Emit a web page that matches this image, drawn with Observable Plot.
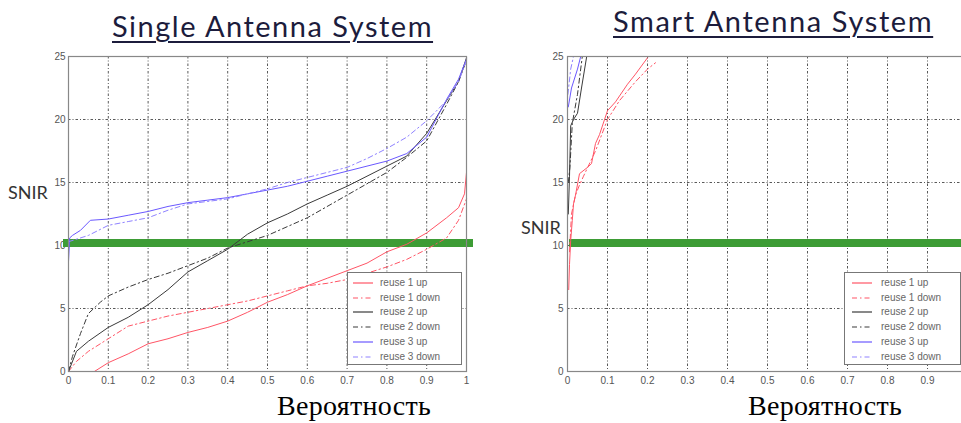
<!DOCTYPE html>
<html>
<head>
<meta charset="utf-8">
<script src="https://cdn.jsdelivr.net/npm/d3@7"></script>
<script src="https://cdn.jsdelivr.net/npm/@observablehq/plot@0.6"></script>
<style>
  html, body { margin: 0; padding: 0; background: #fff; overflow: hidden; }
  #page { position: relative; width: 961px; height: 423px; overflow: hidden; background: #fff; }
  .abs { position: absolute; white-space: nowrap; }
  .title { font-family: "Lato", "DejaVu Sans", sans-serif; font-size: 29px; line-height: 34px; color: #1c1c3c; text-decoration: underline; text-decoration-thickness: 2px; text-underline-offset: 4px; }
  .snir { font-family: "Lato", "DejaVu Sans", sans-serif; font-size: 18px; line-height: 17px; color: #333; }
  .xlab { font-family: "Liberation Serif", "Times New Roman", serif; font-size: 28px; line-height: 32px; color: #000; }
  .legend { position: absolute; border: 1px solid #777; background: #fff; box-sizing: border-box; }
  .legend .row { position: absolute; left: 0; height: 14px; font-family: "Liberation Sans Narrow", "Liberation Sans", sans-serif; font-size: 10px; color: #666; }
  .legend svg { position: absolute; top: 0; }
  .plotwrap { position: absolute; top: 0; }
  .plotwrap svg { overflow: visible; max-width: none !important; }
</style>
</head>
<body>
<div id="page"></div>
<script>
// ---------- data ----------
const xTicks = [0, 0.1, 0.2, 0.3, 0.4, 0.5, 0.6, 0.7, 0.8, 0.9, 1];
const xTicksVisibleSmart = [0, 0.1, 0.2, 0.3, 0.4, 0.5, 0.6, 0.7, 0.8, 0.9];
const yTicks = [0, 5, 10, 15, 20, 25];
const threshold = 10.2;
const seriesNames = ["reuse 1 up", "reuse 1 down", "reuse 2 up", "reuse 2 down", "reuse 3 up", "reuse 3 down"];
const chartTitles = ["Single Antenna System", "Smart Antenna System"];
const yLabel = "SNIR";
const xLabel = "Вероятность";

// Single antenna system
const single_r1up_p = [0.065,0.1,0.15,0.2,0.25,0.3,0.35,0.4,0.45,0.5,0.55,0.6,0.65,0.7,0.75,0.8,0.85,0.9,0.95,0.98,0.995,1.0];
const single_r1up_s = [0,0.7,1.4,2.2,2.6,3.1,3.5,4.0,4.7,5.5,6.1,6.8,7.4,8.0,8.6,9.5,10.1,11.0,12.2,13.0,14.1,15.8];
const single_r1dn_p = [0,0.02,0.05,0.1,0.15,0.2,0.25,0.3,0.35,0.4,0.45,0.5,0.55,0.6,0.65,0.7,0.75,0.8,0.85,0.9,0.95,0.98,1.0];
const single_r1dn_s = [0,0.8,1.6,2.6,3.6,4.0,4.4,4.7,5.0,5.3,5.6,6.0,6.4,6.8,7.0,7.3,7.8,8.3,8.9,9.7,10.6,12.0,13.7];
const single_r2up_p = [0,0.02,0.05,0.1,0.15,0.2,0.25,0.3,0.35,0.4,0.45,0.5,0.55,0.6,0.65,0.7,0.75,0.8,0.85,0.9,0.95,0.98,1.0];
const single_r2up_s = [0,1.6,2.4,3.5,4.3,5.3,6.5,7.9,8.8,9.7,10.9,11.8,12.5,13.3,14.0,14.7,15.5,16.3,17.1,18.9,21.5,23.0,24.9];
const single_r2dn_p = [0,0.01,0.03,0.05,0.08,0.1,0.15,0.2,0.25,0.3,0.35,0.4,0.45,0.5,0.55,0.6,0.65,0.7,0.75,0.8,0.85,0.9,0.95,0.98,1.0];
const single_r2dn_s = [0,1.2,3.0,4.6,5.5,6.0,6.7,7.3,7.8,8.4,9.0,9.8,10.3,10.8,11.5,12.2,13.1,14.0,14.9,15.8,17.0,18.3,21.2,23.0,24.7];
const single_r3up_p = [0,0.003,0.01,0.03,0.055,0.1,0.15,0.2,0.25,0.3,0.35,0.4,0.45,0.5,0.55,0.6,0.65,0.7,0.75,0.8,0.85,0.9,0.95,0.98,1.0];
const single_r3up_s = [8.7,10.6,10.8,11.2,12.0,12.1,12.4,12.7,13.1,13.4,13.6,13.8,14.1,14.4,14.7,15.1,15.5,15.9,16.3,16.7,17.3,18.6,21.6,23.2,24.8];
const single_r3dn_p = [0,0.05,0.1,0.15,0.2,0.25,0.3,0.35,0.4,0.45,0.5,0.55,0.6,0.65,0.7,0.75,0.8,0.85,0.9,0.95,0.98,1.0];
const single_r3dn_s = [10.3,10.8,11.6,11.9,12.2,12.8,13.3,13.5,13.7,14.1,14.5,15.0,15.4,15.8,16.2,16.9,17.7,18.6,19.9,21.5,23.0,24.7];

// Smart antenna system
const smart_r1up_p = [0.003,0.005,0.008,0.012,0.015,0.02,0.03,0.05,0.06,0.07,0.08,0.1,0.12,0.15,0.17,0.2];
const smart_r1up_s = [6.5,8.5,10.4,12.0,13.3,14.0,15.7,16.2,16.5,18.1,18.8,20.7,21.4,22.8,23.6,24.9];
const smart_r1dn_p = [0.005,0.01,0.02,0.03,0.04,0.07,0.1,0.13,0.17,0.2,0.22];
const smart_r1dn_s = [9.5,12.5,14.0,14.8,15.5,17.5,20.0,21.5,23.0,24.0,24.5];
const smart_r2up_p = [0.002,0.005,0.008,0.015,0.025,0.035,0.048];
const smart_r2up_s = [12.5,15.5,19.5,20.0,20.5,22.5,25];
const smart_r2dn_p = [0.002,0.006,0.012,0.025,0.037];
const smart_r2dn_s = [15,16.2,19.7,22,25];
const smart_r3up_p = [0.002,0.01,0.025,0.033];
const smart_r3up_s = [21,22.5,24,25];
const smart_r3dn_p = [0.001,0.008,0.015];
const smart_r3dn_s = [22,24,25];

// ---------- styles ----------
const seriesStyle = [
  {stroke: "#ff5566", dash: null},
  {stroke: "#ff5566", dash: "5,3,1.5,3"},
  {stroke: "#3a3a3a", dash: null},
  {stroke: "#3a3a3a", dash: "5,3,1.5,3"},
  {stroke: "#6a58ff", dash: null},
  {stroke: "#8f82ff", dash: "5,3,1.5,3"}
];
const green = "#3d9c35";

function toRows(p, s) { return p.map((x, i) => ({x, y: s[i]})); }

function makeChart(series, opts) {
  const marks = [
    Plot.gridX(xTicks, {stroke: "#222", strokeOpacity: 0.75, strokeDasharray: "2.5,2,1,2"}),
    Plot.gridY(yTicks, {stroke: "#222", strokeOpacity: 0.75, strokeDasharray: "2.5,2,1,2"}),
    Plot.axisX(opts.xLabels, {tickSize: 0, tickPadding: 5, fontSize: 10, fill: "#555",
      fontFamily: "Liberation Sans Narrow, Liberation Sans, sans-serif",
      tickFormat: d => d === 0 ? "0" : d === 1 ? "1" : d.toFixed(1), label: null}),
    Plot.axisY(yTicks, {tickSize: 0, tickPadding: opts.ypad, fontSize: 10, fill: "#555",
      fontFamily: "Liberation Sans Narrow, Liberation Sans, sans-serif", label: null}),
    Plot.ruleY([threshold], {stroke: green, strokeWidth: 8, insetLeft: opts.greenL, insetRight: opts.greenR})
  ];
  series.forEach((rows, i) => {
    marks.push(Plot.line(rows, {x: "x", y: "y", stroke: seriesStyle[i].stroke, strokeWidth: 1,
      strokeDasharray: seriesStyle[i].dash || undefined}));
  });
  marks.push(Plot.frame({stroke: "#888", strokeWidth: 1.2}));
  return Plot.plot({
    width: opts.width, height: 395,
    marginLeft: opts.ml, marginRight: opts.mr, marginTop: 56, marginBottom: 24,
    style: {background: "transparent", overflow: "visible", maxWidth: "none"},
    x: {domain: [0, 1]},
    y: {domain: [0, 25]},
    marks
  });
}

const page = document.getElementById("page");

const singleSeries = [
  toRows(single_r1up_p, single_r1up_s), toRows(single_r1dn_p, single_r1dn_s),
  toRows(single_r2up_p, single_r2up_s), toRows(single_r2dn_p, single_r2dn_s),
  toRows(single_r3up_p, single_r3up_s), toRows(single_r3dn_p, single_r3dn_s)
];
const smartSeries = [
  toRows(smart_r1up_p, smart_r1up_s), toRows(smart_r1dn_p, smart_r1dn_s),
  toRows(smart_r2up_p, smart_r2up_s), toRows(smart_r2dn_p, smart_r2dn_s),
  toRows(smart_r3up_p, smart_r3up_s), toRows(smart_r3dn_p, smart_r3dn_s)
];

function addPlot(chart, left, width) {
  const w = document.createElement("div");
  w.className = "plotwrap";
  w.style.left = left + "px";
  w.style.width = width + "px";
  w.appendChild(chart);
  page.appendChild(w);
}
addPlot(makeChart(singleSeries, {width: 480, ml: 68, mr: 14, ypad: 3, greenL: -5, greenR: -7, xLabels: xTicks}), 0, 480);
addPlot(makeChart(smartSeries, {width: 500, ml: 87, mr: 13, ypad: 4, greenL: 2, greenR: -20, xLabels: xTicksVisibleSmart}), 480, 500);

function addText(cls, text, left, top, extra) {
  const d = document.createElement("div");
  d.className = "abs " + cls;
  d.textContent = text;
  d.style.left = left + "px";
  d.style.top = top + "px";
  if (extra) Object.assign(d.style, extra);
  page.appendChild(d);
  return d;
}
addText("title", chartTitles[0], 112, 9, {letterSpacing: "1.5px"});
addText("title", chartTitles[1], 613, 4, {letterSpacing: "1.6px"});
addText("snir", yLabel, 8, 184);
addText("snir", yLabel, 521, 219);
addText("xlab", xLabel, 277, 390, {letterSpacing: "0.3px"});
addText("xlab", xLabel, 748, 390, {letterSpacing: "0.3px"});

function addLegend(left, width, lineX, textX) {
  const box = document.createElement("div");
  box.className = "legend";
  box.style.left = left + "px";
  box.style.top = "272px";
  box.style.width = width + "px";
  box.style.height = "93px";
  seriesNames.forEach((name, i) => {
    const row = document.createElement("div");
    row.className = "row";
    row.style.top = (3 + i * 14.7) + "px";
    row.style.width = width + "px";
    const st = seriesStyle[i];
    row.innerHTML = `<svg width="${textX}" height="14"><line x1="${lineX}" x2="${lineX + 20}" y1="7" y2="7" stroke="${st.stroke}" stroke-width="1.2" ${st.dash ? `stroke-dasharray="${st.dash}"` : ""}/></svg><span style="position:absolute;left:${textX}px;top:0;line-height:14px">${name}</span>`;
    box.appendChild(row);
  });
  page.appendChild(box);
}
addLegend(347, 115, 5, 32);
addLegend(844, 117, 7, 36);
</script>
</body>
</html>
